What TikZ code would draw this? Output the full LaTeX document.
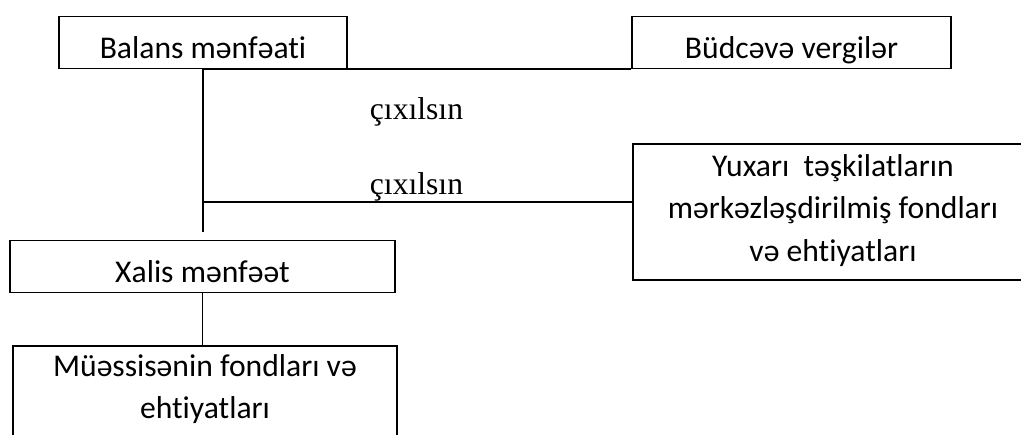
\documentclass[tikz,border=0pt]{standalone}
\usepackage{fontspec}
\setmainfont{Carlito}[Ligatures=NoCommon]
\newfontfamily\timesfont{Liberation Serif}

\tikzset{
	box/.style={draw,line width=1.1pt,inner sep=0pt,font=\fontsize{18}{24.2}\selectfont},
	oneline/.style={box,minimum height=1.04cm,text height=0.83cm,text depth=0.2cm},
	cix/.style={inner sep=0pt,anchor=base,font=\timesfont\fontsize{18}{22}\selectfont},
	link/.style={line width=1.1pt}
}

\begin{document}
\begin{tikzpicture}[x=0.02cm,y=-0.02cm]
	\useasboundingbox (0,0) rectangle (1021,435);
	\clip (0,0) rectangle (1021,435);
	
	\node[oneline,minimum width=5.76cm] (balans) at (203,42.5){Balans mənfəati};
	\node[oneline,minimum width=6.38cm] (budce) at (791.5,42.5){Büdcəvə vergilər};
	
	\node[cix] (cix1) at (416.5,119.3){çıxılsın};
	\node[cix] (cix2) at (416.5,195){çıxılsın};
	
	\node[box,anchor=north,minimum width=8cm,text height=0.648cm,text depth=2.072cm] (yuxari) at (833,143){\begin{tabular}[t]{c}Yuxarı\ \ təşkilatların\\ mərkəzləşdirilmiş fondları\\ və ehtiyatları\end{tabular}};
	
	\node[oneline,minimum width=7.7cm] (xalis) at (202.5,266.5){Xalis mənfəət};
	\node[box,anchor=north,minimum width=7.68cm,text height=0.61cm,text depth=2cm] (muessise) at (205,345){\begin{tabular}[t]{c}Müəssisənin fondları və\\ ehtiyatları\end{tabular}};
	
	\coordinate (trunk) at (balans.south |- 0,232);
	\coordinate (branch) at (balans.south |- 0,202);
	
	\draw[link] (balans.south) -- (trunk);
	\draw[link] (balans.south) -- (budce.south west);
	\draw[link] (branch) -- (branch -| yuxari.west);
	\draw[link] (xalis.south) -- (xalis.south |- muessise.north);
\end{tikzpicture}
\end{document}
